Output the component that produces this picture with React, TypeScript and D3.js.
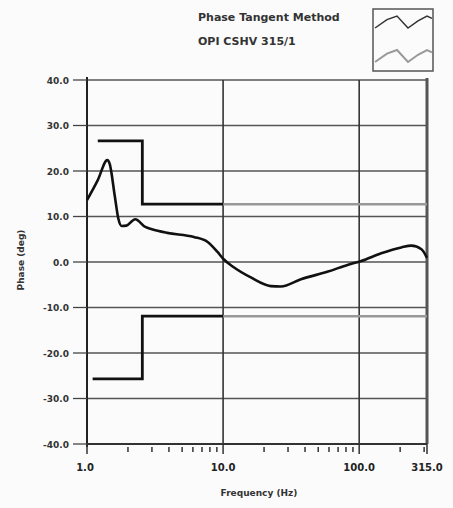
import React from "react";
import * as d3 from "d3";

// ---- data ----
const curveFreq = [1.0, 1.2, 1.41, 1.47, 1.6, 1.7, 1.8, 1.95, 2.26, 2.68, 3.0, 3.9, 6.1, 7.7, 9.1, 10.1, 11.9, 16, 22.4, 26.6, 37.3, 59, 83, 103.5, 145, 204, 242, 287, 315];
const curvePhase = [13.6, 18, 22.4, 21.5, 14.5, 9.5, 7.9, 8.0, 9.4, 7.7, 7.2, 6.4, 5.5, 4.4, 2.2, 0.6, -1.1, -3.4, -5.3, -5.4, -3.8, -2.1, -0.6, 0.2, 1.9, 3.2, 3.6, 2.8, 0.9];

const upperLimitFreq = [1.2, 2.55, 2.55, 10];
const upperLimitPhase = [26.6, 26.6, 12.7, 12.7];
const lowerLimitFreq = [1.1, 2.55, 2.55, 10];
const lowerLimitPhase = [-25.7, -25.7, -11.9, -11.9];

const grayUpperFreq = [10, 315];
const grayUpperPhase = [12.7, 12.7];
const grayLowerFreq = [10, 315];
const grayLowerPhase = [-11.9, -11.9];

const yTicks = [40, 30, 20, 10, 0, -10, -20, -30, -40];
const xMajorTicks = [1, 10, 100, 315];
const xMinorTicks = [2, 3, 4, 5, 6, 7, 8, 9, 20, 30, 40, 50, 60, 70, 80, 90, 200, 300];
const legendLabels = ["Phase Tangent Method", "OPI CSHV 315/1"];

const W = 453;
const H = 508;
const left = 87;
const right = 427;
const top = 80;
const bottom = 444;

export default function App() {
  const x = d3.scaleLog().domain([1, 315]).range([left, right]);
  const y = d3.scaleLinear().domain([-40, 40]).range([bottom, top]);

  const toPts = (fs: number[], vs: number[]) => fs.map((f, i) => [x(f), y(vs[i])] as [number, number]);
  const smooth = d3.line().curve(d3.curveMonotoneX);
  const straight = d3.line();

  const font = "DejaVu Sans, sans-serif";

  // legend box
  const bx = 373, by = 9, bw = 60, bh = 62;
  const zig = (cy: number, amp: number) => {
    const pts: [number, number][] = [
      [bx + 2, cy + amp],
      [bx + 14, cy - amp * 0.4],
      [bx + 24, cy - amp],
      [bx + 35, cy + amp],
      [bx + 45, cy - amp * 0.2],
      [bx + 54, cy - amp],
      [bx + 59, cy - amp * 0.6],
    ];
    return straight(pts) || "";
  };

  return (
    <svg width={W} height={H} style={{ position: "absolute", left: 0, top: 0, background: "#fbfbfb" }}>
      <rect x={0} y={0} width={W} height={H} fill="#fbfbfb" />

      {/* horizontal grid */}
      {yTicks.map((t) => (
        <line key={"hg" + t} x1={left} x2={right} y1={y(t)} y2={y(t)} stroke="#555" strokeWidth={1.6} />
      ))}
      {/* vertical grid */}
      {[10, 100].map((t) => (
        <line key={"vg" + t} x1={x(t)} x2={x(t)} y1={top} y2={bottom} stroke="#333" strokeWidth={1.6} />
      ))}
      <line x1={x(315)} x2={x(315)} y1={top - 2} y2={bottom} stroke="#555" strokeWidth={3} />

      {/* axes */}
      <line x1={left} x2={left} y1={top - 3} y2={bottom + 3} stroke="#222" strokeWidth={2} />
      <line x1={left} x2={right} y1={bottom} y2={bottom} stroke="#333" strokeWidth={2} />

      {/* y ticks and labels */}
      {yTicks.map((t) => (
        <g key={"yt" + t}>
          <line x1={73} x2={left} y1={y(t)} y2={y(t)} stroke="#444" strokeWidth={1.3} />
          <text x={69} y={y(t) + 3.5} textAnchor="end" fontFamily={font} fontSize={9} fontWeight="bold" fill="#333">
            {t.toFixed(1)}
          </text>
        </g>
      ))}

      {/* x ticks and labels */}
      {xMinorTicks.map((t) => (
        <line key={"xm" + t} x1={x(t)} x2={x(t)} y1={bottom + 3} y2={bottom + 8} stroke="#333" strokeWidth={1.5} />
      ))}
      {xMajorTicks.map((t) => (
        <g key={"xt" + t}>
          <line x1={x(t)} x2={x(t)} y1={bottom} y2={bottom + 10} stroke="#333" strokeWidth={1.5} />
          <text x={x(t) - (t === 1 ? 2 : 0)} y={bottom + 27} textAnchor="middle" fontFamily={font} fontSize={10} fontWeight="bold" fill="#222">
            {t.toFixed(1)}
          </text>
        </g>
      ))}

      {/* axis titles */}
      <text x={259} y={496} textAnchor="middle" fontFamily={font} fontSize={9} fontWeight="bold" fill="#333">
        Frequency (Hz)
      </text>
      <text
        transform={`translate(24, 260) rotate(-90)`}
        textAnchor="middle"
        fontFamily={font}
        fontSize={9}
        fontWeight="bold"
        fill="#333"
      >
        Phase (deg)
      </text>

      {/* gray limit continuation */}
      <path d={straight(toPts(grayUpperFreq, grayUpperPhase)) || ""} fill="none" stroke="#999" strokeWidth={2.5} />
      <path d={straight(toPts(grayLowerFreq, grayLowerPhase)) || ""} fill="none" stroke="#999" strokeWidth={2.5} />

      {/* black limits */}
      <path d={straight(toPts(upperLimitFreq, upperLimitPhase)) || ""} fill="none" stroke="#111" strokeWidth={2.8} />
      <path d={straight(toPts(lowerLimitFreq, lowerLimitPhase)) || ""} fill="none" stroke="#111" strokeWidth={2.8} />

      {/* phase curve */}
      <path d={smooth(toPts(curveFreq, curvePhase)) || ""} fill="none" stroke="#111" strokeWidth={2.6} strokeLinejoin="round" />

      {/* legend */}
      <text x={198} y={21} fontFamily={font} fontSize={11} fontWeight="bold" fill="#333">
        {legendLabels[0]}
      </text>
      <text x={198} y={45} fontFamily={font} fontSize={11} fontWeight="bold" fill="#333">
        {legendLabels[1]}
      </text>
      <rect x={bx} y={by} width={bw} height={bh} fill="#fbfbfb" stroke="#555" strokeWidth={1.5} />
      <path d={zig(22, 6)} fill="none" stroke="#333" strokeWidth={1.5} />
      <path d={zig(56, 6)} fill="none" stroke="#999" strokeWidth={2} />
    </svg>
  );
}
